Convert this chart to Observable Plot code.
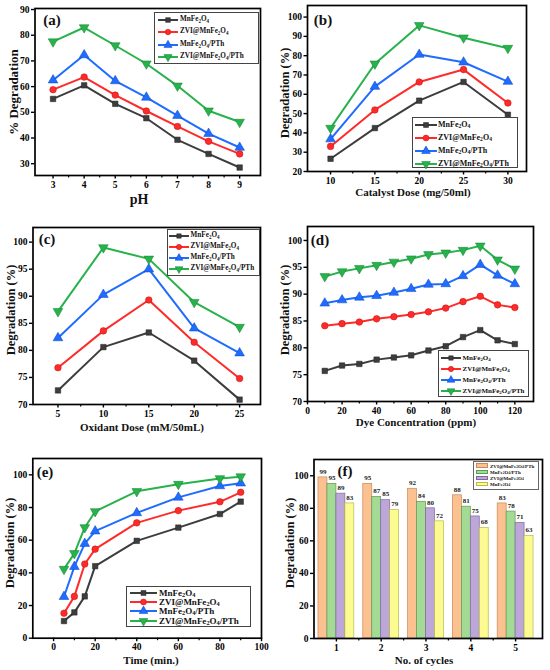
<!DOCTYPE html>
<html><head><meta charset="utf-8">
<script src="https://cdn.jsdelivr.net/npm/d3@7"></script>
<script src="https://cdn.jsdelivr.net/npm/@observablehq/plot@0.6"></script>
<style>
body{margin:0;background:#fff;}
#fig{position:relative;width:550px;height:670px;font-family:"Liberation Serif","Times New Roman",serif;font-weight:bold;overflow:hidden;color:#111;}
#fig svg.plotsvg{position:absolute;}
.t{position:absolute;white-space:nowrap;transform:translate(-50%,-50%);line-height:1;}
.yl{position:absolute;white-space:nowrap;transform:translate(-50%,-50%) rotate(-90deg);line-height:1;}
.lg{position:absolute;border:1px solid #444;background:#fff;box-sizing:border-box;}
.row{position:absolute;left:0;white-space:nowrap;line-height:1;}
.row svg{position:absolute;left:0;top:0;}
.row span{position:absolute;transform:translateY(-50%);}
sub{font-size:0.7em;vertical-align:-0.25em;line-height:0;}
</style></head>
<body><div id="fig"></div>
<script>
// ---------- data ----------
const seriesHTML = ["MnFe<sub>2</sub>O<sub>4</sub>", "ZVI@MnFe<sub>2</sub>O<sub>4</sub>", "MnFe<sub>2</sub>O<sub>4</sub>/PTh", "ZVI@MnFe<sub>2</sub>O<sub>4</sub>/PTh"];

// (a) pH
const pH = [3, 4, 5, 6, 7, 8, 9];
const a_MnFe2O4 = [55.2, 60.5, 53.3, 47.7, 39.3, 33.8, 28.5];
const a_ZVI_MnFe2O4 = [58.8, 63.7, 56.7, 50.5, 44.5, 38.7, 33.8];
const a_MnFe2O4_PTh = [62.5, 72.3, 62.2, 55.8, 48.7, 41.7, 36.3];
const a_ZVI_MnFe2O4_PTh = [77.5, 83.0, 76.0, 68.9, 60.3, 50.6, 46.2];

// (b) catalyst dose
const dose = [10, 15, 20, 25, 30];
const b_MnFe2O4 = [26.6, 42.5, 56.7, 66.4, 49.4];
const b_ZVI_MnFe2O4 = [33.0, 51.9, 66.4, 72.8, 55.5];
const b_MnFe2O4_PTh = [36.8, 64.0, 80.6, 76.6, 66.6];
const b_ZVI_MnFe2O4_PTh = [42.5, 75.8, 95.7, 89.3, 83.9];

// (c) oxidant dose
const oxidant = [5, 10, 15, 20, 25];
const c_MnFe2O4 = [72.6, 80.6, 83.3, 78.1, 70.9];
const c_ZVI_MnFe2O4 = [76.8, 83.6, 89.3, 81.5, 74.8];
const c_MnFe2O4_PTh = [82.3, 90.3, 95.0, 84.1, 79.5];
const c_ZVI_MnFe2O4_PTh = [87.2, 99.0, 96.9, 88.9, 84.3];

// (d) dye concentration
const dye = [10, 20, 30, 40, 50, 60, 70, 80, 90, 100, 110, 120];
const d_MnFe2O4 = [75.7, 76.7, 77.0, 77.8, 78.2, 78.6, 79.5, 80.3, 82.0, 83.3, 81.4, 80.7];
const d_ZVI_MnFe2O4 = [84.1, 84.5, 84.8, 85.4, 85.8, 86.2, 86.7, 87.4, 88.6, 89.6, 88.0, 87.5];
const d_MnFe2O4_PTh = [88.3, 88.9, 89.4, 89.7, 90.3, 91.0, 91.8, 91.9, 93.4, 95.5, 93.5, 91.9];
const d_ZVI_MnFe2O4_PTh = [93.3, 94.2, 94.8, 95.4, 96.0, 96.6, 97.4, 97.7, 98.2, 99.0, 96.4, 94.7];

// (e) time
const time = [5, 10, 15, 20, 40, 60, 80, 90];
const e_MnFe2O4 = [10.5, 15.8, 25.6, 44.1, 59.6, 67.7, 76.0, 83.6];
const e_ZVI_MnFe2O4 = [15.3, 25.6, 45.4, 54.5, 70.6, 78.1, 83.5, 89.3];
const e_MnFe2O4_PTh = [25.4, 43.8, 57.9, 65.5, 76.7, 86.2, 93.2, 94.9];
const e_ZVI_MnFe2O4_PTh = [42.3, 51.9, 67.8, 77.6, 89.9, 94.3, 97.8, 98.9];

// (f) reuse cycles
const cycles = [1, 2, 3, 4, 5];
const f_ZVI_MnFe2O4_PTh = [99, 95, 92, 88, 83];
const f_MnFe2O4_PTh = [95, 87, 84, 81, 78];
const f_ZVI_MnFe2O4 = [89, 85, 80, 75, 71];
const f_MnFe2O4 = [83, 79, 72, 68, 63];
const barHTML = ["ZVI@MnFe<sub>2</sub>O<sub>4</sub>/PTh", "MnFe<sub>2</sub>O<sub>4</sub>/PTh", "ZVI@MnFe<sub>2</sub>O<sub>4</sub>", "MnFe<sub>2</sub>O<sub>4</sub>"];

// ---------- styles ----------
const colors = ["#3d3d3d", "#ff2a2a", "#1f6cff", "#27b24b"];
const darks = ["#222", "#c01010", "#0a45c0", "#128030"];
const triDown = {draw(ctx, size){ const y = -Math.sqrt(size / (Math.sqrt(3) * 3)); ctx.moveTo(0, -y * 2); ctx.lineTo(-Math.sqrt(3) * y, y); ctx.lineTo(Math.sqrt(3) * y, y); ctx.closePath(); }};
const symbols = ["square", "circle", "triangle", triDown];
const radii = [3.1, 3.3, 3.6, 3.6];
const barFill = ["#fcc190", "#a3db95", "#bda7d9", "#fbfb92"];
const barStroke = ["#c8885a", "#5f9a55", "#7f6aa0", "#b8b850"];

const fig = document.getElementById("fig");

function makePlot(p, marks){
  const [l, r, t, b] = p.frame;
  const svg = Plot.plot({
    width: p.w, height: p.h,
    marginLeft: l - p.left, marginRight: p.left + p.w - r,
    marginTop: t - p.top, marginBottom: p.top + p.h - b,
    x: {domain: p.xd}, y: {domain: p.yd},
    style: {fontFamily: "'Liberation Serif', serif", fontSize: "9.5px", fontWeight: "bold", color: "#000", background: "transparent", overflow: "visible"},
    marks: [
      ...marks,
      Plot.axisX(p.xt, {tickSize: 3.5, tickPadding: 2, strokeWidth: 1.4, label: null, tickFormat: d => String(d)}),
      Plot.axisX(p.xm, {tickSize: 2.5, strokeWidth: 1.2, label: null, tickFormat: () => ""}),
      Plot.axisY(p.yt, {tickSize: 3.5, tickPadding: 2, strokeWidth: 1.4, label: null, tickFormat: d => String(d)}),
      Plot.frame({stroke: "#000", strokeWidth: 1.7})
    ]
  });
  svg.classList.add("plotsvg");
  svg.style.left = p.left + "px";
  svg.style.top = p.top + "px";
  fig.appendChild(svg);
}

function linePanel(p){
  const marks = [];
  p.series.forEach((ys, i) => {
    const rows = p.xs.map((x, j) => ({x, y: ys[j]}));
    marks.push(Plot.line(rows, {x: "x", y: "y", stroke: colors[i], strokeWidth: 2}));
    marks.push(Plot.dot(rows, {x: "x", y: "y", symbol: symbols[i], fill: colors[i], stroke: darks[i], strokeWidth: 0.5, r: radii[i]}));
  });
  makePlot(p, marks);
}

function text(cls, html, x, y, size){
  const d = document.createElement("div");
  d.className = cls; d.innerHTML = html;
  d.style.left = x + "px"; d.style.top = y + "px"; d.style.fontSize = size + "px";
  fig.appendChild(d);
}

function lineLegend(L){
  const box = document.createElement("div");
  box.className = "lg";
  Object.assign(box.style, {left: L.x + "px", top: L.y + "px", width: L.w + "px", height: L.h + "px"});
  seriesHTML.forEach((name, i) => {
    const row = document.createElement("div");
    row.className = "row";
    const cy = L.r0 + i * L.dr;
    row.style.top = cy + "px";
    const s = d3.create("svg").attr("width", L.ll + 4).attr("height", 12).style("top", "-6px").style("left", L.lx + "px").style("overflow", "visible");
    s.append("line").attr("x1", 0).attr("x2", L.ll).attr("y1", 6).attr("y2", 6).attr("stroke", colors[i]).attr("stroke-width", 2);
    const r = radii[i] * L.ms;
    const sym = d3.symbol(i === 3 ? triDown : [d3.symbolSquare, d3.symbolCircle, d3.symbolTriangle][i], Math.PI * r * r);
    s.append("path").attr("d", sym()).attr("transform", `translate(${L.ll / 2},6)`).attr("fill", colors[i]).attr("stroke", darks[i]).attr("stroke-width", 0.5);
    row.appendChild(s.node());
    const sp = document.createElement("span");
    sp.innerHTML = name; sp.style.left = L.tx + "px"; sp.style.fontSize = L.fs + "px";
    row.appendChild(sp);
    box.appendChild(row);
  });
  fig.appendChild(box);
}

// ---------- panels ----------
linePanel({left: 0, top: 0, w: 275, h: 222, frame: [34.5, 260, 8, 175],
  xd: [2.42, 9.67], yd: [25.4, 90.4], xt: pH, xm: [3.5, 4.5, 5.5, 6.5, 7.5, 8.5], yt: [30, 40, 50, 60, 70, 80, 90],
  xs: pH, series: [a_MnFe2O4, a_ZVI_MnFe2O4, a_MnFe2O4_PTh, a_ZVI_MnFe2O4_PTh]});

linePanel({left: 275, top: 0, w: 275, h: 222, frame: [307, 526, 5, 171],
  xd: [7.4, 32.1], yd: [20, 106], xt: dose, xm: [12.5, 17.5, 22.5, 27.5], yt: [20, 30, 40, 50, 60, 70, 80, 90, 100],
  xs: dose, series: [b_MnFe2O4, b_ZVI_MnFe2O4, b_MnFe2O4_PTh, b_ZVI_MnFe2O4_PTh]});

linePanel({left: 0, top: 220, w: 275, h: 225, frame: [32.5, 260, 227, 404],
  xd: [2.25, 27.3], yd: [70, 102.7], xt: oxidant, xm: [7.5, 12.5, 17.5, 22.5], yt: [70, 75, 80, 85, 90, 95, 100],
  xs: oxidant, series: [c_MnFe2O4, c_ZVI_MnFe2O4, c_MnFe2O4_PTh, c_ZVI_MnFe2O4_PTh]});

linePanel({left: 275, top: 220, w: 275, h: 225, frame: [307, 533, 226, 401],
  xd: [0, 130.8], yd: [70, 102.6], xt: [0, 20, 40, 60, 80, 100, 120], xm: [10, 30, 50, 70, 90, 110], yt: [70, 75, 80, 85, 90, 95, 100],
  xs: dye, series: [d_MnFe2O4, d_ZVI_MnFe2O4, d_MnFe2O4_PTh, d_ZVI_MnFe2O4_PTh]});

linePanel({left: 0, top: 445, w: 275, h: 225, frame: [32.3, 261, 458, 637.7],
  xd: [-10, 100], yd: [0, 110], xt: [0, 20, 40, 60, 80, 100], xm: [10, 30, 50, 70, 90], yt: [0, 20, 40, 60, 80, 100],
  xs: time, series: [e_MnFe2O4, e_ZVI_MnFe2O4, e_MnFe2O4_PTh, e_ZVI_MnFe2O4_PTh]});

// (f) bars
{
  const bw = 0.2;
  const barSeries = [f_ZVI_MnFe2O4_PTh, f_MnFe2O4_PTh, f_ZVI_MnFe2O4, f_MnFe2O4];
  const marks = [];
  barSeries.forEach((vals, i) => {
    const rows = cycles.map((c, j) => ({c, v: vals[j]}));
    marks.push(Plot.rectY(rows, {x1: d => d.c + (i - 2) * bw, x2: d => d.c + (i - 1) * bw, y: "v", fill: barFill[i], stroke: barStroke[i], strokeWidth: 0.7}));
    marks.push(Plot.text(rows, {x: d => d.c + (i - 1.5) * bw, y: "v", text: d => String(d.v), dy: -6, fontSize: 7, fill: "#222"}));
  });
  makePlot({left: 275, top: 445, w: 275, h: 225, frame: [313.5, 542, 459, 638],
    xd: [0.5, 5.6], yd: [0, 110], xt: cycles, xm: [1.5, 2.5, 3.5, 4.5], yt: [0, 20, 40, 60, 80, 100]}, marks);
  // legend
  const box = document.createElement("div");
  box.className = "lg";
  Object.assign(box.style, {left: "473px", top: "461px", width: "66px", height: "29px", borderColor: "#666"});
  barHTML.forEach((name, i) => {
    const row = document.createElement("div");
    row.className = "row";
    row.style.top = (3.5 + i * 6.2) + "px";
    const sw = document.createElement("div");
    Object.assign(sw.style, {position: "absolute", left: "2px", top: "-2.2px", width: "12px", height: "4.4px", background: barFill[i], border: "0.5px solid " + barStroke[i], boxSizing: "border-box"});
    row.appendChild(sw);
    const sp = document.createElement("span");
    sp.innerHTML = name; sp.style.left = "16px"; sp.style.fontSize = "5px";
    row.appendChild(sp);
    box.appendChild(row);
  });
  fig.appendChild(box);
}

// ---------- legends ----------
lineLegend({x: 154, y: 12, w: 105, h: 52, r0: 6.5, dr: 12.5, lx: 3, ll: 20, tx: 25, fs: 7.2, ms: 0.85});
lineLegend({x: 412, y: 117, w: 106, h: 51, r0: 6.5, dr: 13, lx: 1.5, ll: 22, tx: 25, fs: 8, ms: 0.9});
lineLegend({x: 167, y: 229, w: 93, h: 47, r0: 5.5, dr: 11.2, lx: 1, ll: 20, tx: 22.5, fs: 7.2, ms: 0.8});
lineLegend({x: 438, y: 350, w: 91, h: 47, r0: 6.5, dr: 11.2, lx: 2, ll: 20, tx: 23.5, fs: 7, ms: 0.8});
lineLegend({x: 126, y: 586, w: 125, h: 41, r0: 5.5, dr: 9.4, lx: 3, ll: 27, tx: 32, fs: 9, ms: 0.9});

// ---------- titles ----------
text("t", "(a)", 52, 20, 15);
text("t", "(b)", 323, 20, 15);
text("t", "(c)", 47, 239, 15);
text("t", "(d)", 320, 240, 15);
text("t", "(e)", 45, 472, 15);
text("t", "(f)", 345, 471, 15);

text("t", "pH", 139, 200, 14);
text("t", "Catalyst Dose (mg/50ml)", 413, 192, 11);
text("t", "Oxidant Dose (mM/50mL)", 142, 427, 11);
text("t", "Dye Concentration (ppm)", 416, 422, 11);
text("t", "Time (min.)", 151, 660, 11);
text("t", "No. of cycles", 424, 660, 11);

text("yl", "% Degradation", 13, 92, 13);
text("yl", "Degradation (%)", 285, 93, 12.5);
text("yl", "Degradation (%)", 11, 310, 12.5);
text("yl", "Degradation (%)", 285, 310, 12.5);
text("yl", "Degradation (%)", 10, 543, 12.5);
text("yl", "Degradation (%)", 290, 543, 12.5);
</script></body></html>
